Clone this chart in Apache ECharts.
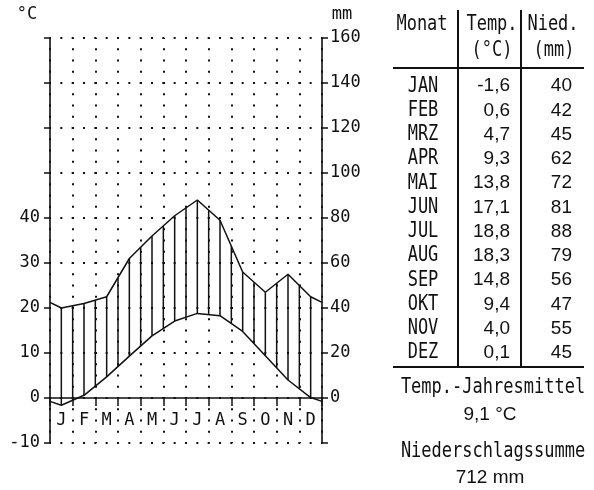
<!DOCTYPE html>
<html><head><meta charset="utf-8">
<script src="https://cdn.jsdelivr.net/npm/echarts@6/dist/echarts.min.js"></script>
<style>html,body{margin:0;padding:0;background:#fff}#c{width:594px;height:490px}</style>
</head><body><div id="c"></div>
<script>
// ---- data ----
const monthLetters = ['J','F','M','A','M','J','J','A','S','O','N','D'];
const monthAbbr = ['JAN','FEB','MRZ','APR','MAI','JUN','JUL','AUG','SEP','OKT','NOV','DEZ'];
const tempC = [-1.6, 0.6, 4.7, 9.3, 13.8, 17.1, 18.8, 18.3, 14.8, 9.4, 4.0, 0.1];
const precipMm = [40, 42, 45, 62, 72, 81, 88, 79, 56, 47, 55, 45];
const annualMeanTemp = '9,1 °C';
const annualPrecip = '712 mm';
const tempLabelMax = 40;

// ---- helpers ----
const INK = '#111';
const MONO = "'DejaVu Sans Mono', 'Liberation Mono', monospace";
const NARROW = "'Liberation Sans Narrow', 'Liberation Sans', Arial, sans-serif";

function wrapSeries(arr) {
  const edge = (arr[arr.length - 1] + arr[0]) / 2;
  const pts = [[0, edge]];
  arr.forEach((v, i) => pts.push([i + 0.5, v]));
  pts.push([arr.length, edge]);
  return pts;
}
const tempLine = wrapSeries(tempC);
const precLine = wrapSeries(precipMm);

// hatch positions at each half month (centres and month boundaries)
function valAt(line, x) {
  for (let i = 0; i < line.length - 1; i++) {
    const a = line[i], b = line[i + 1];
    if (x >= a[0] && x <= b[0]) return a[1] + (b[1] - a[1]) * (x - a[0]) / (b[0] - a[0]);
  }
  return line[line.length - 1][1];
}
const hatch = [];
for (let k = 1; k < 24; k++) {
  const x = k / 2;
  hatch.push([x, valAt(tempLine, x), valAt(precLine, x)]);
}

const fmt = v => v.toFixed(1).replace('.', ',');

// ---- table graphics ----
const g = [];
function txt(t, x, y, font, align, sy) {
  g.push({type: 'text', x: x, y: y, scaleY: sy || 1, silent: true,
    style: {text: t, font: font, fill: INK, align: align || 'center', verticalAlign: 'middle'}});
}
function ln(x1, y1, x2, y2, w) {
  g.push({type: 'line', silent: true, shape: {x1, y1, x2, y2}, style: {stroke: INK, lineWidth: w || 2}});
}
txt('°C', 27, 15, '17px ' + MONO);
txt('mm', 342, 15, '17px ' + MONO);

ln(458, 10, 458, 367, 2);
ln(521, 10, 521, 367, 2);
ln(393, 68, 584, 68, 2.2);
ln(393, 367, 584, 367, 2.2);
txt('Monat', 422, 25, '17px ' + MONO, 'center', 1.2);
txt('Temp.', 492, 25, '17px ' + MONO, 'center', 1.2);
txt('Nied.', 553, 25, '17px ' + MONO, 'center', 1.2);
txt('(°C)', 492, 51, '17px ' + MONO, 'center', 1.2);
txt('(mm)', 554, 51, '17px ' + MONO, 'center', 1.2);
monthAbbr.forEach((m, i) => {
  const y = 86 + i * 24.27;
  txt(m, 423, y, '17px ' + MONO, 'center', 1.25);
  txt(fmt(tempC[i]), 510, y, '19px ' + NARROW, 'right');
  txt(String(precipMm[i]), 572, y, '19px ' + NARROW, 'right');
});
txt('Temp.-Jahresmittel', 493, 388, '17px ' + MONO, 'center', 1.2);
txt(annualMeanTemp, 490, 415, '19px ' + NARROW);
txt('Niederschlagssumme', 493, 452, '17px ' + MONO, 'center', 1.2);
txt(annualPrecip, 490, 478, '19px ' + NARROW);

// ---- chart ----
const chart = echarts.init(document.getElementById('c'), null, {renderer: 'canvas'});
const dotY = {color: INK, width: 2, type: [2, 9.333], dashOffset: 1};
const dotX = {color: INK, width: 2, type: [2, 9.25], dashOffset: 1};
chart.setOption({
  backgroundColor: '#fff',
  animation: false,
  grid: {left: 50, top: 38, width: 272, height: 405, containLabel: false},
  xAxis: [
    {type: 'value', min: 0, max: 12, interval: 1, position: 'bottom',
     axisLine: {show: true, onZero: true, onZeroAxisIndex: 0, lineStyle: {color: INK, width: 1.6}},
     axisTick: {show: true, length: 8, lineStyle: {color: INK, width: 1.5}},
     axisLabel: {show: false},
     splitLine: {show: true, lineStyle: dotX}},
    {type: 'category', data: monthLetters, boundaryGap: true, position: 'bottom',
     axisLine: {show: false, onZero: false},
     axisTick: {show: false},
     axisLabel: {show: true, interval: 0, margin: -31, color: INK, fontFamily: MONO, fontSize: 17},
     splitLine: {show: false}}
  ],
  yAxis: [
    {type: 'value', min: -10, max: 80, interval: 10, position: 'left',
     axisLine: {show: true, onZero: false, lineStyle: {color: INK, width: 1.6}},
     axisTick: {show: true, length: 6, lineStyle: {color: INK, width: 1.5}},
     axisLabel: {margin: 10, color: INK, fontFamily: MONO, fontSize: 17,
       formatter: v => (v <= tempLabelMax ? String(v) : '')},
     splitLine: {show: true, lineStyle: dotY}},
    {type: 'value', min: -20, max: 160, interval: 20, position: 'right',
     axisLine: {show: true, onZero: false, lineStyle: {color: INK, width: 1.6}},
     axisTick: {show: true, length: 6, lineStyle: {color: INK, width: 1.5}},
     axisLabel: {margin: 8, color: INK, fontFamily: MONO, fontSize: 17,
       formatter: v => (v >= 0 ? String(v) : '')},
     splitLine: {show: false}}
  ],
  series: [
    {type: 'custom', xAxisIndex: 0, yAxisIndex: 0, data: hatch, silent: true,
     encode: {x: 0, y: 1},
     renderItem: function (params, api) {
       const x = api.value(0), t = api.value(1), p = api.value(2);
       const a = api.coord([x, t]);
       const b = api.coord([x, p / 2]);
       return {type: 'line', shape: {x1: a[0], y1: a[1], x2: b[0], y2: b[1]},
               style: {stroke: INK, lineWidth: 1.5}};
     }},
    {type: 'line', name: 'Temp', xAxisIndex: 0, yAxisIndex: 0, data: tempLine,
     showSymbol: false, silent: true, lineStyle: {color: INK, width: 1.5}},
    {type: 'line', name: 'Nied', xAxisIndex: 0, yAxisIndex: 1, data: precLine,
     showSymbol: false, silent: true, lineStyle: {color: INK, width: 1.5}}
  ],
  graphic: g
});
</script></body></html>
